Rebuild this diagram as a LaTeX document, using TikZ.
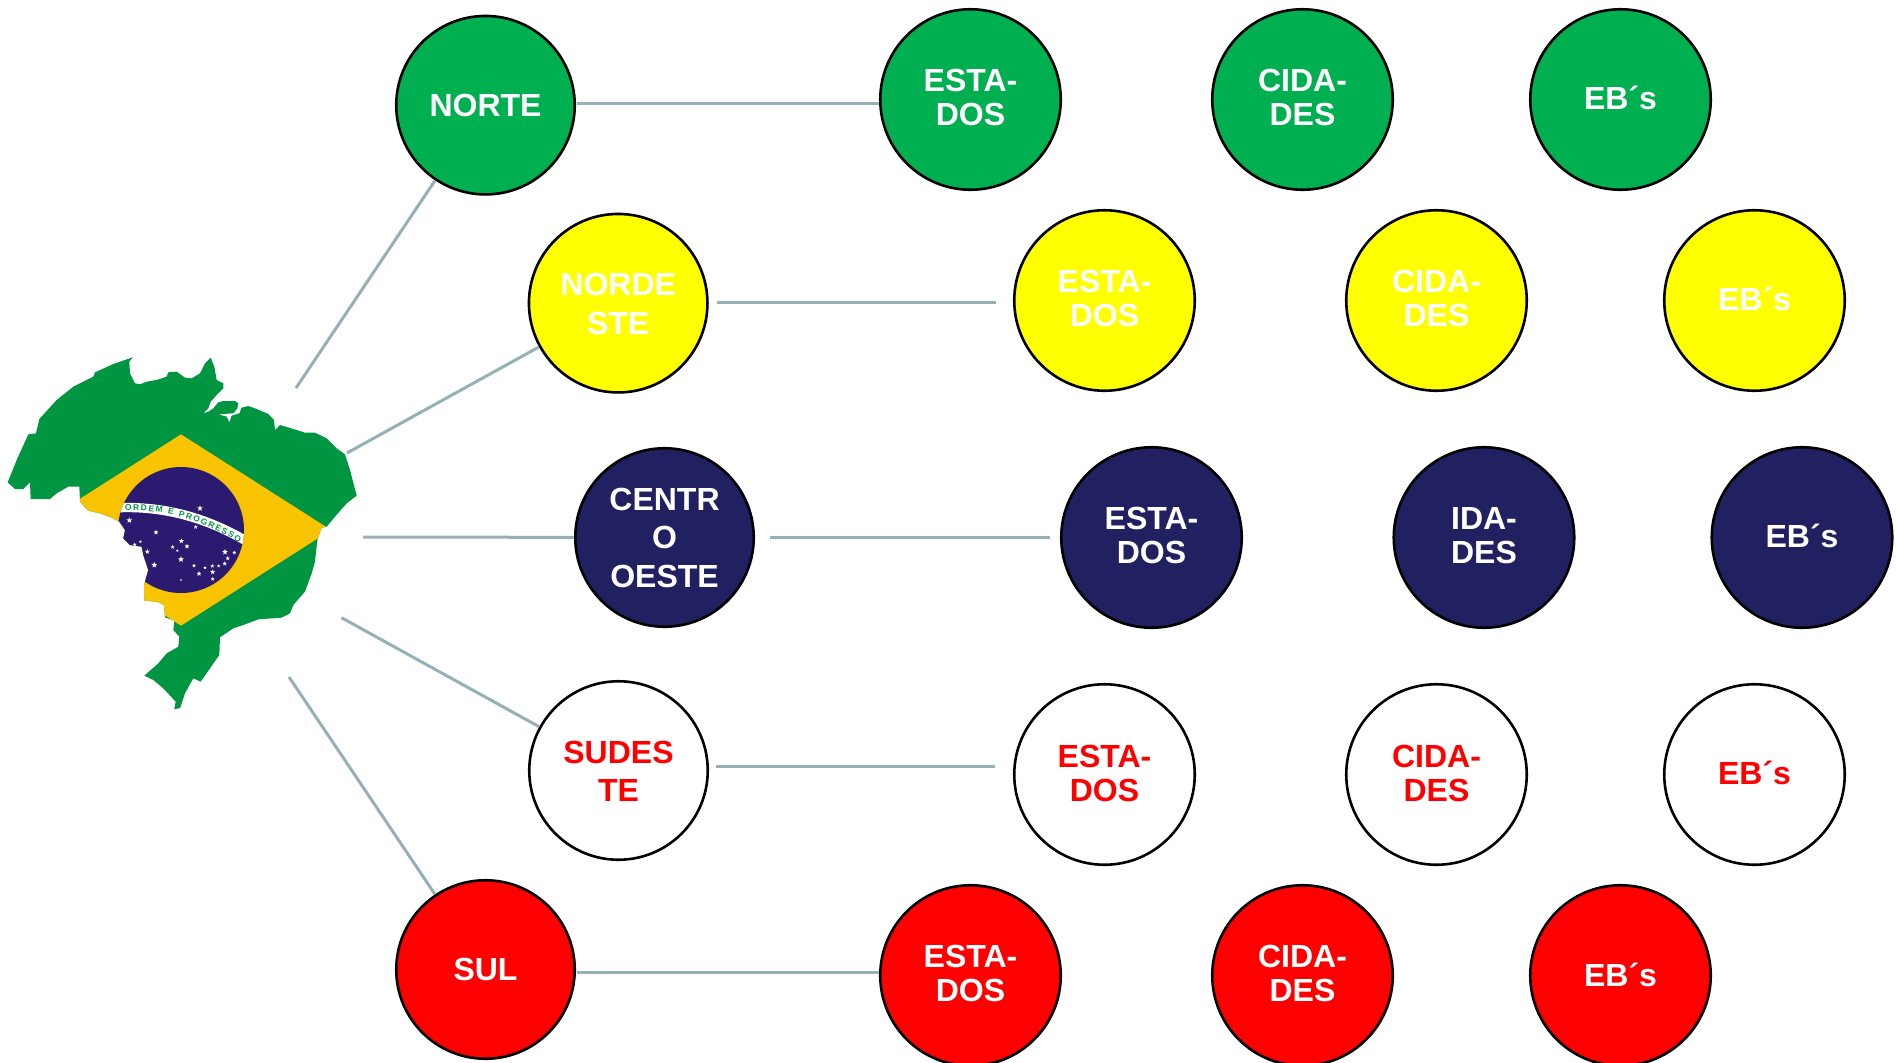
\documentclass[tikz,border=0pt]{standalone}
\usepackage{fontspec}
\setmainfont{Liberation Sans}
\usetikzlibrary{decorations.text}
\definecolor{cgreen}{HTML}{00AF50}
\definecolor{cyel}{HTML}{FFFF00}
\definecolor{cnavy}{HTML}{212060}
\definecolor{cline}{HTML}{95B0B6}
\definecolor{fgreen}{HTML}{009540}
\definecolor{fyellow}{HTML}{F8C300}
\definecolor{fblue}{HTML}{2B1A70}
\newcommand{\lifted}[2]{\raisebox{#1}[\height][\depth]{\begin{tabular}{@{}c@{}}#2\end{tabular}}}
\tikzset{
  disc/.style={circle,draw=black,line width=2.6pt,inner sep=0pt,
    font=\fontsize{32}{33.7}\selectfont\bfseries,minimum size=#1},
  region/.style={disc=178.5pt,font=\fontsize{32}{38.5}\selectfont\bfseries},
  item/.style={disc=180.5pt},
  gr/.style={fill=cgreen,text=white},
  ye/.style={fill=cyel,text=white},
  na/.style={fill=cnavy,text=white},
  wh/.style={fill=white,text=red},
  re/.style={fill=red,text=white},
  conn/.style={draw=cline,line width=3pt},
}
\begin{document}
\begin{tikzpicture}[x=1pt,y=-1pt]
\useasboundingbox (0,0) rectangle (1896,1063);
% map
\begin{scope}[shift={(0,340)},x=0.33333pt,y=-0.33333pt]
\def\outline{(398,52) -- (388,65) -- (390,100) -- (405,130) -- (420,133) -- (440,125) -- (470,120) -- (500,110) -- (505,97) -- (530,95) -- (555,113) -- (575,115) -- (600,100) -- (615,70) -- (632,53) -- (643,80) -- (650,120) -- (670,130) -- (670,145) -- (650,165) -- (632,185) -- (625,205) -- (610,220) -- (625,215) -- (640,205) -- (655,187) -- (670,183) -- (705,183) -- (715,190) -- (712,205) -- (700,220) -- (655,223) -- (680,230) -- (688,247) -- (695,227) -- (718,220) -- (725,203) -- (745,198) -- (770,207) -- (805,222) -- (822,240) -- (825,270) -- (840,255) -- (880,267) -- (915,278) -- (945,278) -- (980,295) -- (1010,325) -- (1035,343) -- (1050,390) -- (1070,467) -- (1040,490) -- (1005,530) -- (980,560) -- (965,563) -- (952,600) -- (945,665) -- (935,700) -- (915,755) -- (880,795) -- (870,820) -- (845,833) -- (775,838) -- (730,855) -- (700,865) -- (660,892) -- (658,945) -- (630,985) -- (602,1025) -- (580,1015) -- (555,1060) -- (540,1105) -- (523,1107) -- (527,1085) -- (490,1045) -- (460,1020) -- (433,1007) -- (475,970) -- (500,940) -- (535,920) -- (538,890) -- (520,870) -- (523,842) -- (495,832) -- (492,795) -- (470,785) -- (433,782) -- (432,735) -- (445,690) -- (430,645) -- (425,620) -- (390,615) -- (370,595) -- (375,570) -- (358,545) -- (335,533) -- (300,520) -- (265,512) -- (240,485) -- (238,440) -- (205,440) -- (170,460) -- (150,477) -- (92,477) -- (90,427) -- (70,447) -- (45,447) -- (23,427) -- (50,360) -- (85,283) -- (108,280) -- (118,237) -- (170,180) -- (220,140) -- (280,110) -- (285,97) -- (340,72) -- cycle}
\fill[fgreen] \outline;
\begin{scope}
\clip \outline;
\fill[fyellow] (543,283) -- (993,570) -- (543,857) -- (93,570) -- cycle;
\fill[fblue] (543,570) circle[radius=63pt];
\begin{scope}
\clip (543,570) circle[radius=63pt];
\draw[white,line width=9.3pt] (340,504) .. controls (480,495) and (620,530) .. (750,610);
\end{scope}
\foreach \px/\py/\r in {600/505/3.0,388/541/3.0,587/561/2.2,468/577/2.6,544/603/2.7,518/621/2.1,561/619/2.6,532/632/1.4,543/658/3.1,404/614/2.1,421/605/1.6,442/635/2.6,463/675/3.1,582/677/2.1,615/683/1.8,637/678/2.1,656/678/1.8,674/671/2.3,683/655/2.3,675/636/3.1,703/638/2.1,638/696/2.6,597/701/2.6,638/717/2.1,543/720/1.0}{
  \pgfmathsetmacro{\q}{0.42*\r}
  \fill[white,shift={(\px,\py)}] (90:\r pt) -- (126:\q pt) -- (162:\r pt) -- (198:\q pt) -- (234:\r pt) -- (270:\q pt) -- (306:\r pt) -- (342:\q pt) -- (18:\r pt) -- (54:\q pt) -- cycle;
}
\end{scope}
\path[decorate,decoration={text along path,text align={fit to path},raise=-3pt,
   text={|\fontsize{8.4}{9}\selectfont\bfseries\color{fgreen}|ORDEM E PROGRESSO}}]
   (375,503) .. controls (490,497) and (610,530) .. (722,600);
\end{scope}
\begin{scope}[shift={(0.5,0.5)}]
% regions
\node[region,gr] (norte) at (485,104.7) {\lifted{-3.6pt}{NORTE}};
\node[region,ye] (nordeste) at (617.7,302.7) {\lifted{-4pt}{NORDE\\STE}};
\node[region,na] (centro) at (664,537) {\lifted{-3.6pt}{CENTR\\O\\OESTE}};
\node[region,wh] (sudeste) at (618,770) {\lifted{-4.5pt}{SUDES\\TE}};
\node[region,re] (sul) at (485,969) {\lifted{-3pt}{SUL}};
% row 1
\node[item,gr] (esta1) at (970,99) {\lifted{-2.4pt}{ESTA-\\DOS}};
\node[item,gr] (cida1) at (1302,99) {\lifted{-2.4pt}{CIDA-\\DES}};
\node[item,gr] (eb1) at (1620,99) {\lifted{-3pt}{EB´s}};
% row 2
\node[item,ye] (esta2) at (1104,300) {\lifted{-2.4pt}{ESTA-\\DOS}};
\node[item,ye] (cida2) at (1436,300) {\lifted{-2.4pt}{CIDA-\\DES}};
\node[item,ye] (eb2) at (1754,300) {\lifted{-3pt}{EB´s}};
% row 3
\node[item,na] (esta3) at (1151,537) {\lifted{-2.4pt}{ESTA-\\DOS}};
\node[item,na] (cida3) at (1483.5,537) {\lifted{-2.4pt}{IDA-\\DES}};
\node[item,na] (eb3) at (1801.5,537) {\lifted{-3pt}{EB´s}};
% row 4
\node[item,wh] (esta4) at (1104,774) {\lifted{-3pt}{ESTA-\\DOS}};
\node[item,wh] (cida4) at (1436,774) {\lifted{-3pt}{CIDA-\\DES}};
\node[item,wh] (eb4) at (1754,774) {\lifted{-3.6pt}{EB´s}};
% row 5
\node[item,re] (esta5) at (970,975) {\lifted{-2.5pt}{ESTA-\\DOS}};
\node[item,re] (cida5) at (1302,975) {\lifted{-2.5pt}{CIDA-\\DES}};
\node[item,re] (eb5) at (1620,975) {\lifted{-4pt}{EB´s}};
\end{scope}
% hub ends
\coordinate (h1) at (296,388);
\coordinate (h2) at (347,453);
\coordinate (h3) at (363,537);
\coordinate (h4) at (341.5,617.7);
\coordinate (h5) at (289,677);
\draw[conn] (h1) -- (norte);
\draw[conn] (h2) -- (nordeste);
\draw[conn] (h3) -- (centro);
\draw[conn] (h4) -- (sudeste);
\draw[conn] (h5) -- (sul);
% row connectors
\draw[conn,shorten <=0.5pt] ([yshift=1.7pt]norte.east) -- ([yshift=1.7pt]norte.east -| esta1.west);
\draw[conn,shorten <=8.5pt,shorten >=17pt] ([yshift=0.5pt]nordeste.east) -- ([yshift=0.5pt]nordeste.east -| esta2.west);
\draw[conn,shorten <=15pt,shorten >=10pt] (centro.east) -- (esta3.west);
\draw[conn,shorten <=7pt,shorten >=18pt] ([yshift=4pt]sudeste.east) -- ([yshift=4pt]sudeste.east -| esta4.west);
\draw[conn,shorten <=0.5pt] ([yshift=-2.5pt]sul.east) -- ([yshift=-2.5pt]sul.east -| esta5.west);
\end{tikzpicture}
\end{document}
